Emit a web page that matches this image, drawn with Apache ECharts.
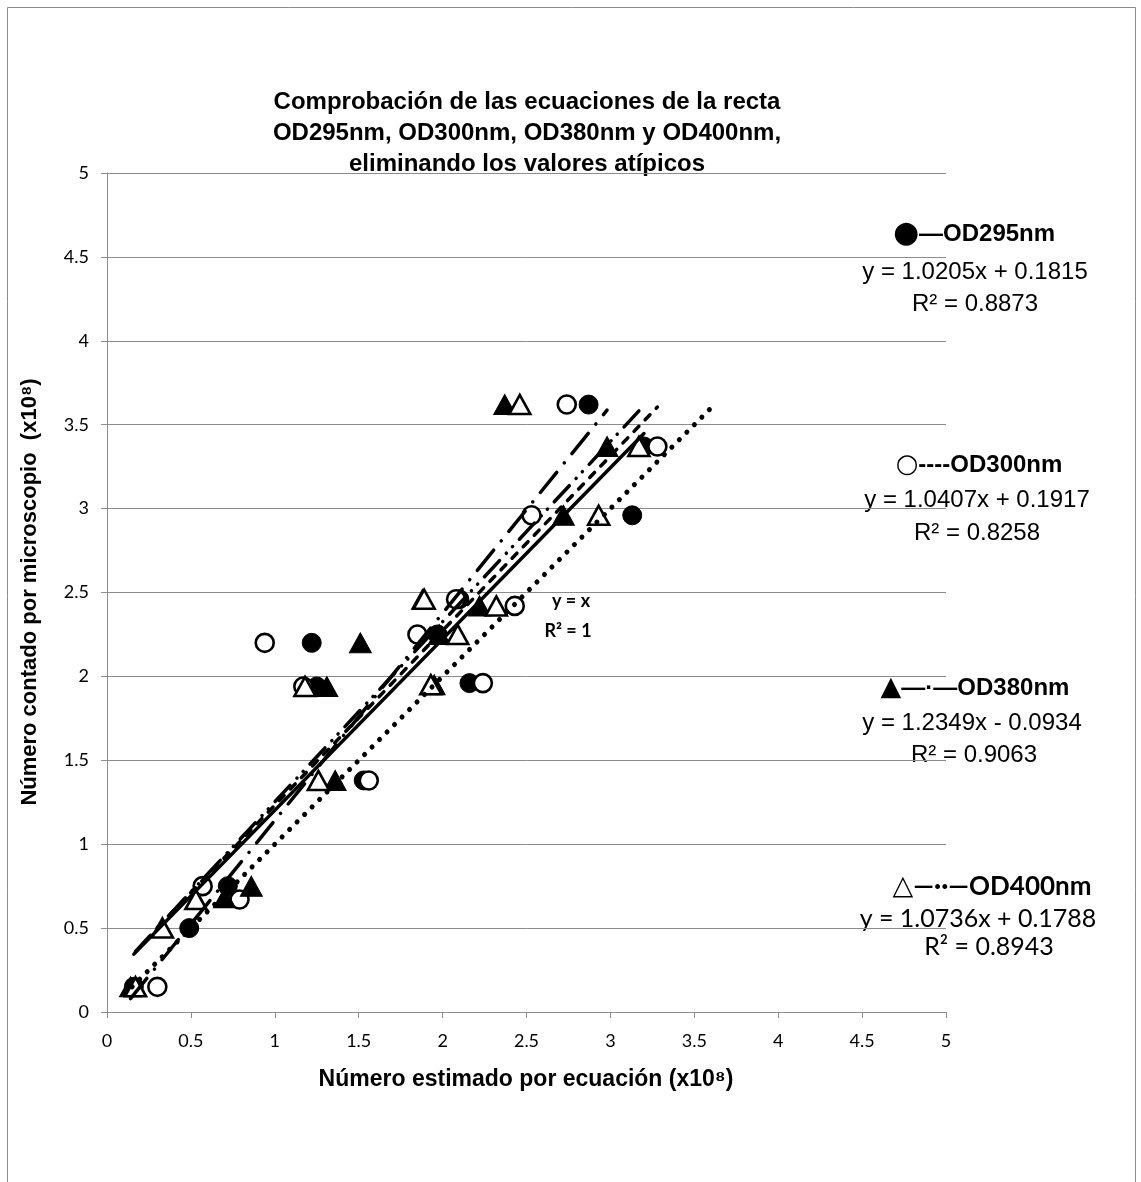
<!DOCTYPE html>
<html>
<head>
<meta charset="utf-8">
<script src="https://cdn.jsdelivr.net/npm/echarts@6/dist/echarts.min.js"></script>
<style>
html, body { margin: 0; padding: 0; background: #fff; }
#chart { width: 1141px; height: 1182px; }
</style>
</head>
<body>
<div id="chart"></div>
<script>
// ejes
var axisTicks = [0, 0.5, 1, 1.5, 2, 2.5, 3, 3.5, 4, 4.5, 5];

// OD295nm (círculo lleno)
var od295X = [0.16, 0.49, 0.72, 1.53, 1.25, 2.16, 1.22, 1.97, 2.10, 3.13, 3.20, 2.87];
var od295Y = [0.15, 0.50, 0.75, 1.38, 1.94, 1.96, 2.20, 2.25, 2.46, 2.96, 3.37, 3.62];
// OD300nm (círculo vacío)
var od300X = [0.30, 0.57, 0.79, 1.56, 1.17, 2.24, 0.94, 1.85, 2.08, 2.43, 2.53, 3.28, 2.74];
var od300Y = [0.15, 0.75, 0.67, 1.38, 1.94, 1.96, 2.20, 2.25, 2.46, 2.42, 2.96, 3.37, 3.62];
// OD380nm (triángulo lleno)
var od380X = [0.14, 0.70, 0.86, 1.36, 1.31, 1.95, 1.51, 1.98, 1.88, 2.22, 2.72, 2.98, 2.37];
var od380Y = [0.15, 0.68, 0.75, 1.38, 1.94, 1.95, 2.20, 2.25, 2.46, 2.42, 2.96, 3.37, 3.62];
// OD400nm (triángulo vacío)
var od400X = [0.17, 0.33, 0.53, 1.26, 1.18, 1.93, 2.09, 1.89, 2.32, 2.93, 3.17, 2.46];
var od400Y = [0.15, 0.50, 0.67, 1.38, 1.94, 1.95, 2.25, 2.46, 2.42, 2.96, 3.37, 3.62];

// rectas de tendencia
var trendSlope = [1.0205, 1.0407, 1.2349, 1.0736];
var trendIntercept = [0.1815, 0.1917, -0.0934, 0.1788];
var trendR2 = [0.8873, 0.8258, 0.9063, 0.8943];

function pairs(xs, ys) {
	var out = [];
	for (var i = 0; i < xs.length; i++) out.push([xs[i], ys[i]]);
	return out;
}
function trend(xs, k) {
	var lo = Math.min.apply(null, xs), hi = Math.max.apply(null, xs);
	return [[lo, trendSlope[k] * lo + trendIntercept[k]], [hi, trendSlope[k] * hi + trendIntercept[k]]];
}
var allY = od295Y.concat(od300Y, od380Y, od400Y);
var yMin = Math.min.apply(null, allY), yMax = Math.max.apply(null, allY);

function eqText(k) {
	var b = trendIntercept[k];
	return 'y = ' + trendSlope[k].toFixed(4) + 'x ' + (b < 0 ? '- ' : '+ ') + Math.abs(b).toFixed(4);
}

var filled = { color: '#000', borderColor: '#000', borderWidth: 1, opacity: 1 };
var hollow = { color: '#fff', borderColor: '#000', borderWidth: 2.6, opacity: 1 };

function lineSeries(data, type, width) {
	return {
		type: 'line', data: data, showSymbol: false, silent: true, z: 5,
		lineStyle: { color: '#000', width: width, type: type, cap: 'round', opacity: 1 }
	};
}

// texto de la leyenda a la derecha
function legendLabel(x, y, mark, markSize, name, font, size) {
	return { type: 'text', x: x, y: y, style: {
		text: '{m|' + mark + '}{t|' + name + '}',
		align: 'center', verticalAlign: 'middle',
		rich: {
			m: { fontFamily: 'DejaVu Sans', fontSize: markSize, fill: '#000', verticalAlign: 'middle' },
			t: { fontFamily: font, fontWeight: 'bold', fontSize: size, fill: '#000', verticalAlign: 'middle' }
		} } };
}
function plainText(x, y, txt, font, size) {
	return { type: 'text', x: x, y: y, style: { text: txt, fontFamily: font, fontSize: size, fill: '#000', align: 'center', verticalAlign: 'middle' } };
}

var option = {
	animation: false,
	backgroundColor: '#fff',
	grid: { left: 107, right: 195, top: 173, bottom: 170 },
	xAxis: {
		type: 'value', min: axisTicks[0], max: axisTicks[axisTicks.length - 1], interval: axisTicks[1] - axisTicks[0],
		axisLine: { show: true, lineStyle: { color: '#8c8c8c', width: 1 } },
		axisTick: { show: true, length: 6, lineStyle: { color: '#8c8c8c' } },
		splitLine: { show: false },
		axisLabel: { color: '#000', fontSize: 18, fontFamily: 'Lato', margin: 20 }
	},
	yAxis: {
		type: 'value', min: axisTicks[0], max: axisTicks[axisTicks.length - 1], interval: axisTicks[1] - axisTicks[0],
		axisLine: { show: true, lineStyle: { color: '#8c8c8c', width: 1 } },
		axisTick: { show: true, length: 6, lineStyle: { color: '#8c8c8c' } },
		splitLine: { show: true, lineStyle: { color: '#8c8c8c', width: 1 } },
		axisLabel: { color: '#000', fontSize: 18, fontFamily: 'Lato', margin: 18 }
	},
	series: [
		{ type: 'scatter', data: pairs(od295X, od295Y), symbol: 'circle', symbolSize: 19, itemStyle: filled, z: 3 },
		{ type: 'scatter', data: pairs(od300X, od300Y), symbol: 'circle', symbolSize: 18, itemStyle: hollow, z: 3 },
		{ type: 'scatter', data: pairs(od380X, od380Y), symbol: 'triangle', symbolSize: [22, 20], itemStyle: filled, z: 3 },
		{ type: 'scatter', data: pairs(od400X, od400Y), symbol: 'triangle', symbolSize: [21, 19], itemStyle: hollow, z: 3 },
		lineSeries(trend(od295X, 0), 'solid', 3.5),
		lineSeries(trend(od300X, 1), [7, 9], 3.5),
		lineSeries(trend(od380X, 2), [26, 12, 0.1, 12], 3.5),
		lineSeries(trend(od400X, 3), [22, 10, 0.1, 9, 0.1, 10], 3.5),
		lineSeries([[yMin, yMin], [yMax, yMax]], [0.1, 10.5], 5)
	],
	graphic: [
		{ type: 'rect', shape: { x: 7.5, y: 7.5, width: 1128, height: 1200 }, style: { fill: 'none', stroke: '#8c8c8c', lineWidth: 1 }, z: -1 },
		{ type: 'text', x: 527, y: 133, style: {
			text: 'Comprobación de las ecuaciones de la recta\nOD295nm, OD300nm, OD380nm y OD400nm,\neliminando los valores atípicos',
			fontFamily: 'Liberation Sans', fontWeight: 'bold', fontSize: 24, lineHeight: 31,
			fill: '#000', align: 'center', verticalAlign: 'middle' } },
		{ type: 'text', x: 30, y: 592, rotation: Math.PI / 2, style: {
			text: 'Número contado por microscopio  (x10⁸)', fontFamily: 'Liberation Sans', fontWeight: 'bold',
			fontSize: 22, fill: '#000', align: 'center', verticalAlign: 'middle' } },
		{ type: 'text', x: 526, y: 1080, style: {
			text: 'Número estimado por ecuación (x10⁸)', fontFamily: 'Liberation Sans', fontWeight: 'bold',
			fontSize: 23, fill: '#000', align: 'center', verticalAlign: 'middle' } },
		{ type: 'text', x: 571, y: 601, style: { text: 'y = x', fontFamily: 'Lato', fontWeight: 'bold', fontSize: 18, fill: '#000', align: 'center', verticalAlign: 'middle' } },
		{ type: 'text', x: 568, y: 631, style: { text: 'R² = 1', fontFamily: 'Lato', fontWeight: 'bold', fontSize: 18, fill: '#000', align: 'center', verticalAlign: 'middle' } },

		legendLabel(974, 234, '●', 30, '—OD295nm', 'Liberation Sans', 24),
		plainText(975, 272, eqText(0), 'Liberation Sans', 24),
		plainText(975, 304, 'R² = ' + trendR2[0].toFixed(4), 'Liberation Sans', 24),

		legendLabel(979, 465, '○', 26, '----OD300nm', 'Liberation Sans', 24),
		plainText(977, 500, eqText(1), 'Liberation Sans', 24),
		plainText(977, 533, 'R² = ' + trendR2[1].toFixed(4), 'Liberation Sans', 24),

		legendLabel(975, 688, '▲', 27, '—·—OD380nm', 'Liberation Sans', 24),
		plainText(972, 723, eqText(2), 'Liberation Sans', 24),
		plainText(974, 755, 'R² = ' + trendR2[2].toFixed(4), 'Liberation Sans', 24),

		legendLabel(992, 887, '△', 27, '—··—OD400nm', 'Lato', 26),
		plainText(978, 919, eqText(3), 'Lato', 25),
		plainText(989, 947, 'R² = ' + trendR2[3].toFixed(4), 'Lato', 25)
	]
};

var chart = echarts.init(document.getElementById('chart'));
chart.setOption(option);
</script>
</body>
</html>
